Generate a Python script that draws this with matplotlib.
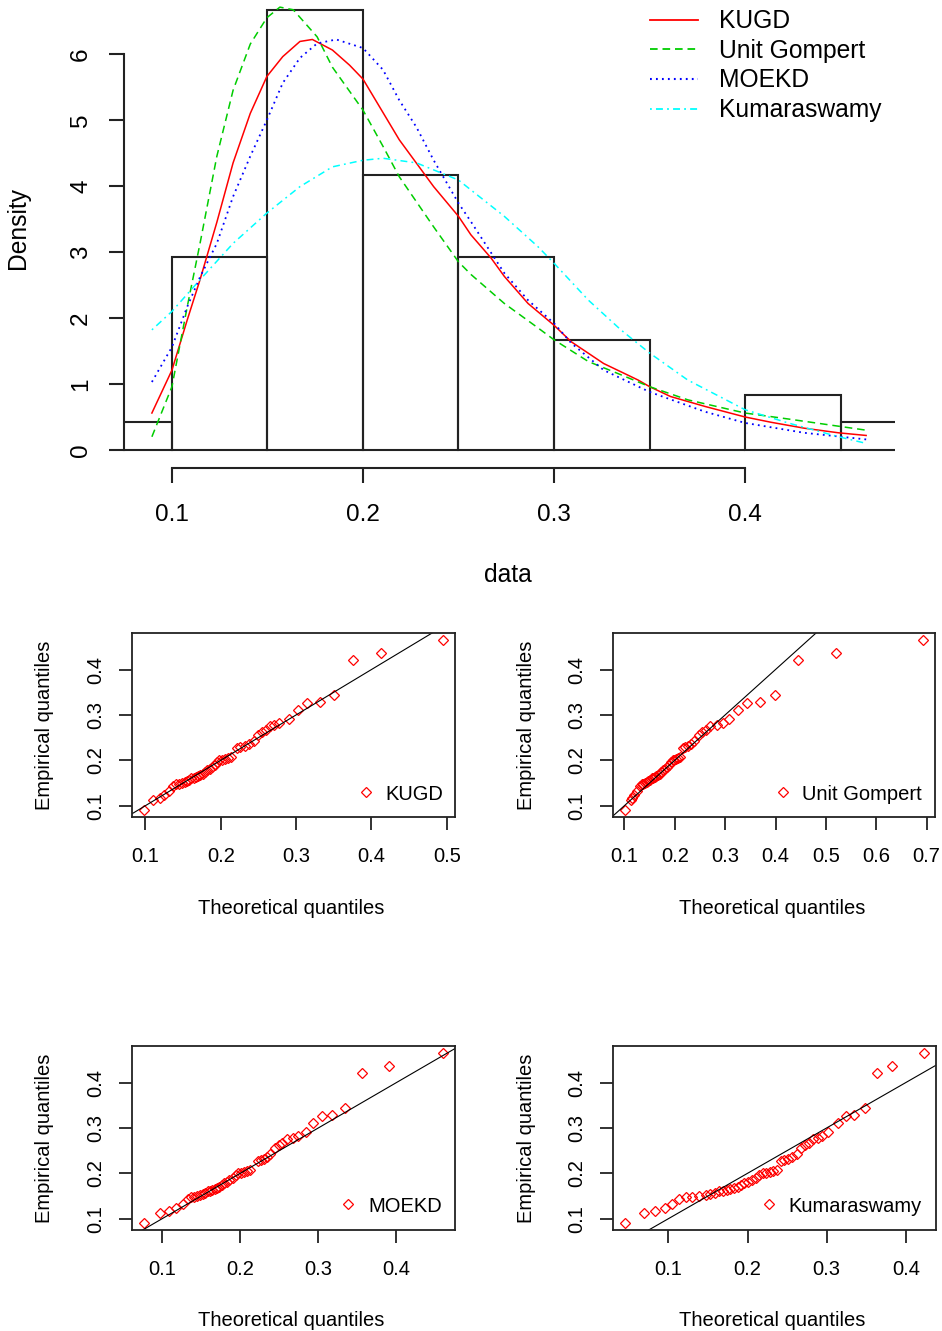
import matplotlib
matplotlib.use("Agg")
import matplotlib.pyplot as plt
from matplotlib.lines import Line2D

plt.rcParams['font.family'] = ['Liberation Sans', 'DejaVu Sans']
plt.rcParams['lines.scale_dashes'] = False

# ---------------- data ----------------
# sorted sample (empirical quantiles)
emp = [0.0900, 0.113, 0.117, 0.124, 0.133, 0.144, 0.147, 0.148, 0.1505, 0.152,
       0.155, 0.157, 0.160, 0.162, 0.163, 0.165, 0.167, 0.170, 0.175, 0.178,
       0.181, 0.185, 0.190, 0.196, 0.2005, 0.201, 0.203, 0.205, 0.207, 0.226,
       0.229, 0.231, 0.236, 0.243, 0.256, 0.263, 0.266, 0.275, 0.278, 0.282,
       0.291, 0.311, 0.326, 0.329, 0.343, 0.420, 0.437, 0.4655]

bin_edges = [0.05, 0.10, 0.15, 0.20, 0.25, 0.30, 0.35, 0.40, 0.45, 0.50]

# fitted densities
kugd_x = [0.0895, 0.1, 0.108, 0.1147, 0.1235, 0.132, 0.141, 0.1497, 0.158, 0.167,
          0.1735, 0.184, 0.193, 0.2, 0.219, 0.237, 0.25, 0.2565, 0.267, 0.274,
          0.2864, 0.3, 0.309, 0.326, 0.344, 0.35, 0.361, 0.379, 0.4, 0.4136,
          0.431, 0.449, 0.4634]
kugd_y = [0.56, 1.21, 1.97, 2.58, 3.45, 4.35, 5.10, 5.66, 5.96, 6.19,
          6.22, 6.06, 5.83, 5.62, 4.70, 3.99, 3.54, 3.26, 2.91, 2.63,
          2.22, 1.89, 1.64, 1.31, 1.06, 0.96, 0.81, 0.66, 0.50, 0.42,
          0.33, 0.26, 0.22]

ug_x = [0.0895, 0.1, 0.108, 0.1147, 0.1235, 0.132, 0.141, 0.1497, 0.1565, 0.1635,
        0.176, 0.184, 0.2, 0.2105, 0.219, 0.237, 0.25, 0.2565, 0.274, 0.2916, 0.3,
        0.318, 0.335, 0.35, 0.370, 0.4, 0.4225, 0.449, 0.4634]
ug_y = [0.20, 0.96, 2.17, 3.13, 4.45, 5.45, 6.15, 6.55, 6.71, 6.67,
        6.26, 5.80, 5.15, 4.60, 4.14, 3.38, 2.85, 2.66, 2.22, 1.85, 1.67,
        1.34, 1.14, 0.96, 0.76, 0.56, 0.47, 0.36, 0.30]

moekd_x = [0.0895, 0.1, 0.108, 0.1147, 0.1235, 0.132, 0.141, 0.1497, 0.158, 0.167,
           0.176, 0.186, 0.2, 0.2105, 0.219, 0.228, 0.237, 0.25, 0.2565, 0.265,
           0.274, 0.2864, 0.3, 0.309, 0.326, 0.35, 0.379, 0.4, 0.431, 0.4634]
moekd_y = [1.03, 1.56, 2.17, 2.62, 3.13, 3.84, 4.45, 5.00, 5.56, 5.94,
           6.16, 6.22, 6.09, 5.76, 5.30, 4.89, 4.39, 3.74, 3.46, 3.08,
           2.68, 2.27, 1.92, 1.62, 1.21, 0.88, 0.58, 0.41, 0.26, 0.16]

kum_x = [0.0895, 0.1, 0.1147, 0.132, 0.1497, 0.167, 0.184, 0.2, 0.2105, 0.228,
         0.25, 0.2565, 0.274, 0.2916, 0.3, 0.318, 0.335, 0.35, 0.370, 0.4,
         0.4225, 0.449, 0.4634]
kum_y = [1.82, 2.10, 2.58, 3.13, 3.59, 3.99, 4.29, 4.39, 4.42, 4.35,
         4.09, 3.94, 3.54, 3.08, 2.83, 2.27, 1.82, 1.47, 1.06, 0.61,
         0.41, 0.20, 0.10]

model_names = ["KUGD", "Unit Gompert", "MOEKD", "Kumaraswamy"]

# theoretical quantiles for each model
theo_kugd = [0.098, 0.110, 0.119, 0.125, 0.131, 0.136, 0.141, 0.145, 0.149, 0.152,
             0.155, 0.158, 0.161, 0.164, 0.167, 0.170, 0.173, 0.176, 0.179, 0.182,
             0.185, 0.188, 0.192, 0.195, 0.198, 0.202, 0.205, 0.209, 0.213, 0.222,
             0.226, 0.232, 0.238, 0.244, 0.249, 0.255, 0.260, 0.265, 0.270, 0.277,
             0.290, 0.302, 0.315, 0.332, 0.350, 0.375, 0.413, 0.495]
theo_ug = [0.101, 0.113, 0.116, 0.120, 0.125, 0.130, 0.134, 0.137, 0.140, 0.144,
           0.147, 0.150, 0.154, 0.157, 0.160, 0.163, 0.166, 0.170, 0.173, 0.177,
           0.180, 0.184, 0.188, 0.192, 0.196, 0.199, 0.203, 0.207, 0.211, 0.216,
           0.221, 0.226, 0.232, 0.238, 0.248, 0.255, 0.261, 0.269, 0.284, 0.295,
           0.3086, 0.326, 0.343, 0.369, 0.399, 0.444, 0.521, 0.693]
theo_moekd = [0.0766, 0.097, 0.109, 0.118, 0.126, 0.133, 0.137, 0.141, 0.145, 0.149,
              0.152, 0.155, 0.158, 0.161, 0.164, 0.167, 0.170, 0.173, 0.176, 0.179,
              0.183, 0.186, 0.190, 0.194, 0.197, 0.201, 0.205, 0.209, 0.213, 0.222,
              0.226, 0.230, 0.234, 0.238, 0.244, 0.249, 0.254, 0.260, 0.267, 0.274,
              0.284, 0.293, 0.3045, 0.317, 0.334, 0.3556, 0.390, 0.4596]
theo_kum = [0.045, 0.0685, 0.0824, 0.095, 0.105, 0.113, 0.122, 0.130, 0.139, 0.147,
            0.153, 0.159, 0.164, 0.169, 0.174, 0.178, 0.183, 0.188, 0.192, 0.196,
            0.201, 0.205, 0.210, 0.214, 0.219, 0.223, 0.228, 0.232, 0.237, 0.2416,
            0.246, 0.251, 0.256, 0.262, 0.267, 0.272, 0.277, 0.283, 0.289, 0.294,
            0.302, 0.314, 0.324, 0.335, 0.348, 0.363, 0.383, 0.423]

hist_xticks = [0.1, 0.2, 0.3, 0.4]
hist_yticks = [0, 1, 2, 3, 4, 5, 6]
qq_yticks = [0.1, 0.2, 0.3, 0.4]
qq_xticks = [[0.1, 0.2, 0.3, 0.4, 0.5],
             [0.1, 0.2, 0.3, 0.4, 0.5, 0.6, 0.7],
             [0.1, 0.2, 0.3, 0.4],
             [0.1, 0.2, 0.3, 0.4]]

# ---------------- layout helpers ----------------
W, H = 942, 1331
fig = plt.figure(figsize=(W / 100, H / 100), dpi=100)


def add_ax(l, t, r, b):
    return fig.add_axes([l / W, 1 - b / H, (r - l) / W, (b - t) / H])


def ftext(px, py, s, **kw):
    fig.text(px / W, 1 - py / H, s, **kw)


AX_COL = '#222222'

# ---------------- top: histogram + densities ----------------
ax = add_ax(124, 0, 895, 468)
ax.hist(emp, bins=bin_edges, density=True, histtype='bar', fill=False,
        edgecolor=AX_COL, linewidth=1.5)

ax.plot(kugd_x, kugd_y, color='#FF0000', lw=1.1, ls='-')
ax.plot(ug_x, ug_y, color='#00CD00', lw=1.1, ls=(0, (5.5, 3.5)))
ax.plot(moekd_x, moekd_y, color='#0000FF', lw=1.3, ls=(0, (1.3, 3.0)))
ax.plot(kum_x, kum_y, color='#00FFFF', lw=1.1, ls=(0, (1.3, 3.0, 5.0, 3.0)))

ax.set_xlim(0.0749, 0.4785)
ax.set_ylim(-0.273, 6.818)
for s in ['top', 'right']:
    ax.spines[s].set_visible(False)
ax.spines['left'].set_bounds(0, 6)
ax.spines['bottom'].set_bounds(0.1, 0.4)
for s in ['left', 'bottom']:
    ax.spines[s].set_linewidth(1.5)
    ax.spines[s].set_color(AX_COL)
ax.set_xticks(hist_xticks, [f"{v:.1f}" for v in hist_xticks])
ax.set_yticks(hist_yticks, [str(v) for v in hist_yticks], rotation=90, va='center')
ax.tick_params(axis='both', direction='out', length=10.5, width=1.5, color=AX_COL,
               labelsize=17.5)
ax.tick_params(axis='x', pad=15.5)
ax.tick_params(axis='y', pad=12.5)
ax.patch.set_visible(False)

ftext(18, 228, "Density", rotation=90, ha='center', va='center', fontsize=17.7)
ftext(508, 575, "data", ha='center', va='center', fontsize=17.7)

# legend (manual, no box, as in R with bty="n")
leg_styles = [dict(color='#FF0000', lw=1.3, ls='-'),
              dict(color='#00CD00', lw=1.3, ls=(0, (5.5, 3.5))),
              dict(color='#0000FF', lw=1.5, ls=(0, (1.3, 3.0))),
              dict(color='#00FFFF', lw=1.3, ls=(0, (1.3, 3.0, 5.0, 3.0)))]
for i, (name, st) in enumerate(zip(model_names, leg_styles)):
    yy = 19.5 + 29.7 * i
    fig.add_artist(Line2D([650 / W, 698 / W], [1 - yy / H, 1 - yy / H], **st))
    ftext(719, yy + 1.5, name, ha='left', va='center', fontsize=17.7)

# ---------------- Q-Q plots ----------------
qq_boxes = [(132, 633, 455, 817), (613, 633, 935, 817),
            (132, 1046, 455, 1230), (613, 1046, 936, 1230)]
theos = [theo_kugd, theo_ug, theo_moekd, theo_kum]
leg_pos = [(366, 792, 385), (783, 792, 802), (348, 1204, 368), (769, 1204, 788)]

QQ_FS = 14.5
for k in range(4):
    l, t, r, b = qq_boxes[k]
    a = add_ax(l, t, r, b)
    th = theos[k]
    a.plot(th, emp, ls='none', marker='D', ms=5.2, mfc='none', mec='#FF0000', mew=0.9)
    a.axline((0, 0), slope=1, color='black', lw=0.8)
    xr = max(th) - min(th)
    yr = max(emp) - min(emp)
    a.set_xlim(min(th) - 0.04 * xr, max(th) + 0.04 * xr)
    a.set_ylim(min(emp) - 0.04 * yr, max(emp) + 0.04 * yr)
    a.set_xticks(qq_xticks[k], [f"{v:.1f}" for v in qq_xticks[k]])
    a.set_yticks(qq_yticks, [f"{v:.1f}" for v in qq_yticks], rotation=90, va='center')
    a.tick_params(axis='both', direction='out', length=9.4, width=1.3, color=AX_COL,
                  labelsize=QQ_FS)
    a.tick_params(axis='x', pad=12)
    a.tick_params(axis='y', pad=10)
    for s in a.spines.values():
        s.set_linewidth(1.3)
        s.set_color(AX_COL)
    cx = (l + r) / 2
    cy = (t + b) / 2
    ftext(cx - 2, b + 91, "Theoretical quantiles", ha='center', va='center', fontsize=QQ_FS)
    ftext(l - 87, cy, "Empirical quantiles", rotation=90, ha='center', va='center',
          fontsize=QQ_FS)
    mx, my, tx = leg_pos[k]
    fig.add_artist(Line2D([mx / W], [1 - my / H], ls='none', marker='D', ms=5.2,
                          mfc='none', mec='#FF0000', mew=0.9))
    ftext(tx, my + 2.5, model_names[k], ha='left', va='center', fontsize=QQ_FS)

fig.savefig("out.png", dpi=100)
